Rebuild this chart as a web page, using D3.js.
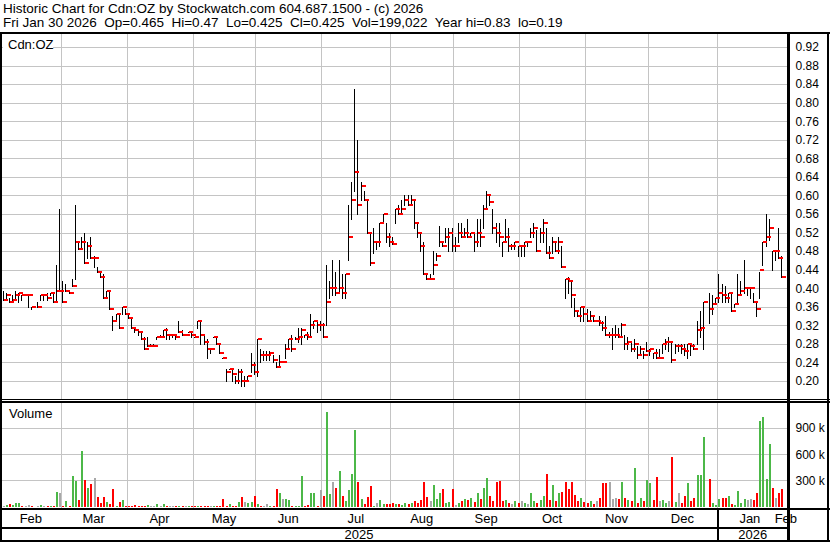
<!DOCTYPE html>
<html><head><meta charset="utf-8">
<script src="https://cdn.jsdelivr.net/npm/d3@7"></script>
<style>
html,body{margin:0;padding:0;background:#fff;}
svg{display:block;}
text{font-family:"Liberation Sans",Arial,sans-serif;fill:#000;}
</style></head><body>
<svg id="chart" width="830" height="543"></svg>
<script>
// ---------- data ----------
const headerLine1 = "Historic Chart for Cdn:OZ by Stockwatch.com 604.687.1500 - (c) 2026";
const headerLine2 = "Fri Jan 30 2026  Op=0.465  Hi=0.47  Lo=0.425  Cl=0.425  Vol=199,022  Year hi=0.83  lo=0.19";
const symbolLabel = "Cdn:OZ";
const monthLabels = ["Feb","Mar","Apr","May","Jun","Jul","Aug","Sep","Oct","Nov","Dec","Jan","Feb"];
const monthStarts = [0,19,40,61,81,102,124,144,165,186,206,228,249];
const yearLabels = ["2025","2026"];
const yearStarts = [0,228];
const priceTicks = [0.20,0.24,0.28,0.32,0.36,0.40,0.44,0.48,0.52,0.56,0.60,0.64,0.68,0.72,0.76,0.80,0.84,0.88,0.92];
const volumeTicks = [300000,600000,900000];

const highs = [
 .395,.39,.38,.385,.395,.39,.385,.385,.385,.36,null,.37,.385,.385,.39,.39,.39,.45,.57,
 .415,.41,.395,.42,.58,.50,.51,.52,.50,.51,.47,.445,.435,.43,.395,.395,.34,.345,.345,.36,.355,
 .345,.335,.315,.31,.305,.295,.295,.28,.28,.295,.30,.31,.315,.30,.30,.30,.33,.31,.30,.305,.305,
 .295,.33,.33,.30,.29,.27,.295,.295,.28,.25,.225,.225,.225,.21,.225,.225,.21,.21,.26,.24,
 .29,.27,.265,.265,.265,.255,.24,.255,.24,.28,.29,.30,.295,.315,.315,.30,.305,.345,.33,.33,.33,
 .325,.45,.415,.46,.435,.46,.43,.43,.58,.63,.83,.72,.63,.61,.59,.52,.53,.50,.54,.56,.54,.52,
 .51,.57,.58,.59,.60,.60,.60,.59,.54,.52,.50,.43,.43,.48,.475,.535,.50,.53,.53,.53,
 .51,.54,.54,.53,.55,.52,.52,.55,.55,.58,.61,.60,.57,.54,.54,.50,.55,.53,.495,.50,.49,
 .49,.50,.50,.53,.54,.525,.53,.55,.53,.49,.51,.50,.51,.49,.42,.425,.415,.38,.35,.36,.36,
 .355,.35,.34,.33,.34,.33,.34,.305,.315,.32,.315,.325,.30,.295,.285,.29,.275,.275,.265,.285,
 .27,.26,.27,.27,.28,.29,.295,.285,.28,.28,.28,.28,.28,.28,.28,.33,.35,.37,null,.39,.385,.38,
 .43,.41,.405,.39,.39,.365,.43,.415,.46,.40,.40,.39,.37,.435,.50,.56,.55,.48,.48,.53,.47
];
const lows = [
 .375,.38,.37,.375,.375,.37,.375,.385,.36,.355,null,.36,.375,.375,.375,.385,.37,.375,.395,
 .37,.395,.39,.405,.42,.485,.485,.455,.465,.465,.445,.435,.425,.38,.38,.355,.31,.33,.315,.345,.345,
 .335,.315,.305,.30,.29,.27,.275,.275,.275,.29,.295,.30,.29,.29,.295,.29,.305,.30,.30,.305,.295,
 .295,.315,.28,.28,.25,.26,.295,.28,.26,.25,.20,.225,.20,.195,.195,.19,.19,.205,.22,.215,
 .21,.24,.245,.245,.245,.24,.23,.23,.24,.25,.27,.265,.29,.285,.28,.295,.29,.295,.315,.305,.31,
 .295,.32,.38,.385,.385,.39,.38,.38,.46,.55,.61,.56,.59,.59,.52,.45,.475,.485,.49,.54,.50,.49,
 .495,.54,.56,.565,.58,.58,.58,.53,.51,.48,.43,.42,.42,.43,.46,.49,.49,.50,.48,.48,
 .48,.50,.51,.51,.51,.51,.48,.49,.49,.53,.57,.58,.52,.50,.49,.47,.50,.48,.485,.485,.47,
 .47,.47,.49,.51,.51,.48,.50,.50,.475,.465,.475,.48,.475,.445,.38,.39,.36,.34,.34,.33,.33,
 .33,.33,.33,.33,.32,.31,.30,.295,.27,.295,.295,.295,.27,.27,.265,.265,.25,.26,.25,.265,
 .255,.25,.25,.25,.26,.27,.265,.24,.26,.265,.26,.255,.25,.255,.27,.28,.295,.27,null,.325,.345,.365,
 .37,.37,.37,.37,.35,.36,.37,.39,.39,.385,.38,.37,.34,.38,.45,.49,.505,.44,.46,.465,.425
];
const closes = [
 .375,.385,.37,.375,.385,.39,.385,.385,.385,.36,null,.36,.385,.385,.38,.39,.37,.395,.395,
 .37,.395,.39,.405,.50,.485,.50,.455,.49,.465,.465,.435,.425,.38,.395,.355,.33,.345,.315,.36,.345,
 .335,.315,.31,.305,.29,.27,.275,.275,.275,.295,.295,.31,.30,.30,.30,.295,.305,.30,.30,.305,.30,
 .295,.33,.30,.285,.27,.27,.295,.28,.26,.25,.22,.225,.215,.20,.22,.20,.20,.21,.235,.22,
 .29,.255,.255,.255,.26,.245,.23,.24,.24,.27,.29,.27,.29,.295,.31,.30,.295,.32,.33,.32,.32,
 .295,.37,.40,.40,.39,.40,.39,.43,.51,.59,.65,.58,.62,.59,.52,.455,.50,.50,.54,.56,.51,.50,
 .495,.57,.56,.57,.59,.58,.59,.54,.52,.49,.43,.42,.42,.45,.47,.50,.49,.51,.52,.49,
 .49,.52,.51,.52,.51,.52,.50,.52,.51,.57,.60,.585,.53,.52,.51,.50,.51,.49,.49,.50,.49,
 .49,.50,.50,.52,.53,.48,.52,.54,.475,.465,.50,.48,.50,.445,.42,.415,.385,.35,.34,.36,.345,
 .33,.34,.33,.33,.325,.315,.30,.30,.30,.30,.295,.32,.28,.285,.27,.28,.255,.27,.255,.265,
 .27,.26,.25,.25,.28,.285,.285,.245,.275,.275,.27,.265,.28,.275,.27,.31,.315,.37,null,.355,.365,.38,
 .39,.385,.38,.39,.35,.365,.385,.395,.40,.40,.40,.37,.355,.44,.50,.51,.53,.48,.48,.465,.425
];
// volume in thousands of shares
const volumeK = [
 10,15,25,15,35,35,5,5,15,5,0,5,20,10,5,5,8,170,160,
 8,68,10,346,288,80,640,300,207,253,323,106,40,114,48,33,195,10,48,71,5,
 10,5,20,5,3,5,20,3,3,33,3,33,10,3,8,5,8,3,3,3,3,
 3,10,3,5,3,3,3,3,3,83,3,29,3,10,56,114,56,45,56,118,
 29,8,8,33,3,10,195,160,91,91,71,8,8,10,346,10,15,160,160,10,184,
 118,1082,149,277,207,404,126,60,184,370,880,277,91,33,106,230,8,45,80,33,33,33,
 40,25,30,20,35,25,40,60,45,70,277,110,60,246,90,150,196,40,55,196,
 15,35,60,90,70,100,55,150,90,208,323,120,60,277,292,60,70,40,30,60,45,
 60,45,30,150,60,40,80,120,369,70,246,60,150,170,277,200,277,130,60,100,50,
 40,60,30,60,100,265,265,277,90,100,90,277,100,70,60,446,40,100,60,300,
 265,80,342,60,70,40,60,573,50,150,40,120,265,60,100,361,361,792,0,315,40,20,
 90,95,100,120,30,20,180,40,90,80,90,80,160,985,1031,315,715,210,100,150,199
];

// ---------- layout ----------
const W = 830, H = 543;
const TOP = 33, BOT = 541;
const AXIS_X = 788.5;
const P_TOP = 34, P_BOT = 398.5;
const V_TOP = 402.5, V_BOT = 508;
const N = closes.length;

const svg = d3.select("#chart");
svg.append("rect").attr("width", W).attr("height", H).attr("fill", "#fff");

const x = d3.scaleLinear().domain([0, N]).range([1, 1 + N * 3.14]);
const y = d3.scaleLinear().domain([0.20, 0.92]).range([381, 47]);
const yv = d3.scaleLinear().domain([0, 900000]).range([506.5, 428]);

const grid = svg.append("g").attr("stroke", "#c4c4c4").attr("stroke-width", 1).attr("shape-rendering", "crispEdges");
grid.selectAll(".hp").data(priceTicks).join("line")
  .attr("x1", 2).attr("x2", AXIS_X - 1)
  .attr("y1", d => Math.round(y(d)) + 0.5).attr("y2", d => Math.round(y(d)) + 0.5);
grid.selectAll(".hv").data(volumeTicks).join("line")
  .attr("x1", 2).attr("x2", AXIS_X - 1)
  .attr("y1", d => Math.round(yv(d)) + 0.5).attr("y2", d => Math.round(yv(d)) + 0.5);
const vg = monthStarts.slice(1, -1);
grid.selectAll(".vp").data(vg).join("line")
  .attr("x1", d => Math.round(x(d)) + 0.5).attr("x2", d => Math.round(x(d)) + 0.5)
  .attr("y1", P_TOP).attr("y2", P_BOT);
grid.selectAll(".vv").data(vg).join("line")
  .attr("x1", d => Math.round(x(d)) + 0.5).attr("x2", d => Math.round(x(d)) + 0.5)
  .attr("y1", V_TOP).attr("y2", V_BOT);

svg.append("rect").attr("x", 3).attr("y", 36).attr("width", 50).attr("height", 16).attr("fill", "#fff");

// bars
const bars = closes.map((c, i) => ({ i, c, h: highs[i], l: lows[i], v: volumeK[i] * 1000 }))
  .filter(d => d.c != null);
bars.forEach((d, k) => {
  const prev = k > 0 ? bars[k - 1].c : null;
  d.col = prev == null || Math.abs(d.c - prev) < 1e-9 ? "#a8a8a8" : (d.c > prev ? "#4cb848" : "#ff0000");
  d.lx = Math.round(x(d.i + 0.5)) + 0.5;
});

const gp = svg.append("g").attr("shape-rendering", "crispEdges");
gp.selectAll("line.hl").data(bars).join("line")
  .attr("x1", d => d.lx).attr("x2", d => d.lx)
  .attr("y1", d => Math.round(y(d.h)) - 0.5).attr("y2", d => Math.round(y(d.l)) + 0.5)
  .attr("stroke", "#000").attr("stroke-width", 1);
gp.selectAll("rect.cl").data(bars).join("rect")
  .attr("x", d => d.lx + 0.5).attr("width", 4)
  .attr("y", d => Math.round(y(d.c)) - 1).attr("height", 2)
  .attr("fill", "#ff0000");

const gv = svg.append("g").attr("shape-rendering", "crispEdges");
gv.selectAll("rect").data(bars.filter(d => d.v > 0)).join("rect")
  .attr("x", d => d.lx - 0.5).attr("width", 2)
  .attr("y", d => Math.min(yv(d.v), 506.5 - 1)).attr("height", d => Math.max(1, 507 - yv(d.v)))
  .attr("fill", d => d.col);

// frame lines
const fr = svg.append("g").attr("fill", "#000").attr("shape-rendering", "crispEdges");
fr.append("rect").attr("x", 0).attr("y", TOP - 1).attr("width", W).attr("height", 2);
fr.append("rect").attr("x", 0).attr("y", TOP - 1).attr("width", 2).attr("height", BOT - TOP + 2);
fr.append("rect").attr("x", 827).attr("y", TOP - 1).attr("width", 2).attr("height", BOT - TOP + 2);
fr.append("rect").attr("x", 0).attr("y", BOT - 1).attr("width", W).attr("height", 2);
fr.append("rect").attr("x", 787).attr("y", TOP - 1).attr("width", 3).attr("height", BOT - TOP + 2);
fr.append("rect").attr("x", 0).attr("y", 399).attr("width", W).attr("height", 1);
fr.append("rect").attr("x", 0).attr("y", 401).attr("width", W).attr("height", 1.5);
fr.append("rect").attr("x", 0).attr("y", 508).attr("width", W).attr("height", 2);
fr.append("rect").attr("x", 0).attr("y", 527).attr("width", AXIS_X).attr("height", 1.5);
fr.append("rect").attr("x", Math.round(x(yearStarts[1]))).attr("y", 509).attr("width", 1.5).attr("height", BOT - 509);

// axes (labels only)
const ay = svg.append("g").attr("transform", `translate(${AXIS_X},0)`)
  .call(d3.axisRight(y).tickValues(priceTicks).tickFormat(d3.format(".2f")).tickSize(0).tickPadding(7));
ay.select(".domain").remove();
ay.selectAll("text").attr("font-size", 12).attr("font-family", '"Liberation Sans",Arial,sans-serif').attr("fill", "#000");

const av = svg.append("g").attr("transform", `translate(${AXIS_X},0)`)
  .call(d3.axisRight(yv).tickValues(volumeTicks).tickFormat(d => (d / 1000) + " k").tickSize(0).tickPadding(7));
av.select(".domain").remove();
av.selectAll("text").attr("font-size", 12).attr("font-family", '"Liberation Sans",Arial,sans-serif').attr("fill", "#000");

const months = monthLabels.map((m, k) => {
  const a = x(monthStarts[k]);
  const b = k + 1 < monthStarts.length ? x(monthStarts[k + 1]) : a + 6;
  return { m, cx: (a + b) / 2 };
});
svg.selectAll("text.month").data(months).join("text").attr("class", "month")
  .attr("x", d => d.cx).attr("y", 523).attr("text-anchor", "middle").attr("font-size", 13).text(d => d.m);

const years = yearLabels.map((yl, k) => {
  const a = x(yearStarts[k]);
  const b = k + 1 < yearStarts.length ? x(yearStarts[k + 1]) : AXIS_X;
  return { yl, cx: (a + b) / 2 };
});
svg.selectAll("text.year").data(years).join("text").attr("class", "year")
  .attr("x", d => d.cx).attr("y", 539).attr("text-anchor", "middle").attr("font-size", 13).text(d => d.yl);

svg.append("text").attr("x", 3).attr("y", 13).attr("font-size", 13.5).style("white-space", "pre").text(headerLine1);
svg.append("text").attr("x", 3).attr("y", 27).attr("font-size", 13.5).style("white-space", "pre").text(headerLine2);
svg.append("text").attr("x", 8).attr("y", 49).attr("font-size", 13).text(symbolLabel);
svg.append("text").attr("x", 9).attr("y", 418).attr("font-size", 13).text("Volume");
</script>
</body></html>
